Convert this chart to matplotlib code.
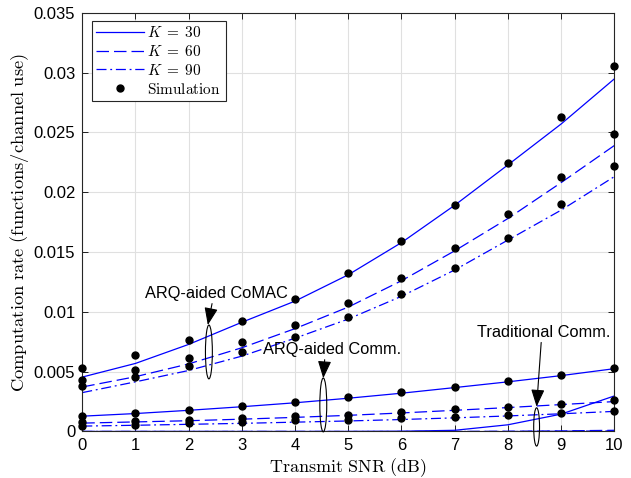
import matplotlib
matplotlib.use("Agg")
import matplotlib.pyplot as plt
from matplotlib.patches import Ellipse
import numpy as np

plt.rcParams['mathtext.fontset'] = 'cm'
plt.rcParams['font.family'] = ['Liberation Sans', 'DejaVu Sans']

snr = [0, 1, 2, 3, 4, 5, 6, 7, 8, 9, 10]

# ARQ-aided CoMAC (theory)
comac_k30 = [0.00455, 0.00569, 0.00728, 0.00913, 0.0109, 0.0131, 0.01579, 0.01891, 0.02228, 0.0257, 0.02947]
comac_k60 = [0.00372, 0.00458, 0.00565, 0.0070, 0.0086, 0.0104, 0.0126, 0.0151, 0.0178, 0.0208, 0.0239]
comac_k90 = [0.00325, 0.00415, 0.0051, 0.0063, 0.0078, 0.0094, 0.0113, 0.0135, 0.0160, 0.0185, 0.0213]
# ARQ-aided CoMAC (simulation)
comac_k30_sim = [0.0053, 0.00638, 0.00767, 0.00922, 0.01105, 0.01328, 0.01593, 0.01897, 0.02243, 0.0263, 0.03059]
comac_k60_sim = [0.00428, 0.00513, 0.00617, 0.00744, 0.0089, 0.01072, 0.01286, 0.01532, 0.01816, 0.0213, 0.02485]
comac_k90_sim = [0.0038, 0.00455, 0.00547, 0.00663, 0.00793, 0.00957, 0.0115, 0.01367, 0.0162, 0.01905, 0.02223]

# ARQ-aided Comm. (theory)
arq_k30 = [0.00128, 0.0015, 0.00177, 0.00207, 0.0024, 0.00278, 0.0032, 0.00367, 0.00415, 0.00467, 0.00525]
arq_k60 = [0.0007, 0.0008, 0.0009, 0.00103, 0.00118, 0.00135, 0.00155, 0.00177, 0.002, 0.00225, 0.0025]
arq_k90 = [0.00045, 0.00052, 0.0006, 0.00068, 0.00078, 0.00088, 0.001, 0.00114, 0.0013, 0.00148, 0.00168]
# ARQ-aided Comm. (simulation)
arq_k30_sim = [0.00133, 0.00156, 0.00183, 0.00211, 0.00244, 0.00286, 0.00329, 0.00372, 0.00419, 0.00472, 0.00528]
arq_k60_sim = [0.00078, 0.00086, 0.00095, 0.00114, 0.00128, 0.00142, 0.00166, 0.00187, 0.00208, 0.00231, 0.00261]
arq_k90_sim = [0.0005, 0.00058, 0.00067, 0.00078, 0.00094, 0.001, 0.00114, 0.00125, 0.00139, 0.00153, 0.00172]

# Traditional Comm. (theory)
trad_k30 = [0.0, 0.0, 0.0, 0.0, 0.0, 0.0, 0.00002, 0.0001, 0.00056, 0.00145, 0.00297]
trad_k60 = [0.0, 0.0, 0.0, 0.0, 0.0, 0.0, 0.0, 0.0, 0.00002, 0.00005, 0.0001]
trad_k90 = [0.0, 0.0, 0.0, 0.0, 0.0, 0.0, 0.0, 0.0, 0.0, 0.00002, 0.00005]

yticks = [0, 0.005, 0.01, 0.015, 0.02, 0.025, 0.03, 0.035]
ytick_labels = ['0', '0.005', '0.01', '0.015', '0.02', '0.025', '0.03', '0.035']

blue = (0, 0, 1)
fig = plt.figure(figsize=(6.31, 4.78), dpi=100)
ax = fig.add_axes([0.1304, 0.0973, 0.8431, 0.876])

lw = 0.9
ls30 = '-'
ls60 = (0, (10, 4))
ls90 = (0, (8, 3, 1.5, 3))

l30, = ax.plot(snr, comac_k30, color=blue, lw=lw, ls=ls30, label=r'$K\;=\;30$')
l60, = ax.plot(snr, comac_k60, color=blue, lw=lw, ls=ls60, label=r'$K\;=\;60$')
l90, = ax.plot(snr, comac_k90, color=blue, lw=lw, ls=ls90, label=r'$K\;=\;90$')
ax.plot(snr, arq_k30, color=blue, lw=lw, ls=ls30)
ax.plot(snr, arq_k60, color=blue, lw=lw, ls=ls60)
ax.plot(snr, arq_k90, color=blue, lw=lw, ls=ls90)
ax.plot(snr, trad_k30, color=blue, lw=lw, ls=ls30)
ax.plot(snr, trad_k60, color=blue, lw=lw, ls=ls60)
ax.plot(snr, trad_k90, color=blue, lw=lw, ls=ls90)

sims = [comac_k30_sim, comac_k60_sim, comac_k90_sim, arq_k30_sim, arq_k60_sim, arq_k90_sim]
sim_handle = None
for s in sims:
    h, = ax.plot(snr, s, 'o', color='black', ms=5, ls='none', clip_on=False, zorder=5,
                 label=r'$\mathrm{Simulation}$')
    if sim_handle is None:
        sim_handle = h

ax.set_xlim(0, 10)
ax.set_ylim(0, 0.035)
ax.set_xticks(snr)
ax.set_yticks(yticks)
ax.set_yticklabels(ytick_labels)
ax.tick_params(direction='in', top=True, right=True, labelsize=12, length=4, width=0.6, pad=5)
ax.grid(True, color='#e0e0e0', lw=0.8)
ax.set_axisbelow(True)
for sp in ax.spines.values():
    sp.set_linewidth(0.8)
    sp.set_color('#262626')

ax.set_xlabel(r'$\mathrm{Transmit\ SNR\ (dB)}$', fontsize=13, labelpad=2)
ax.set_ylabel(r'$\mathrm{Computation\ rate\ (functions/channel\ use)}$', fontsize=13.3, labelpad=2)

leg = ax.legend(handles=[l30, l60, l90, sim_handle], loc='upper left',
                bbox_to_anchor=(9.4 / 532, 1 - 7.8 / 418.6), borderaxespad=0,
                fontsize=11, handlelength=3.1, fancybox=False, framealpha=1,
                edgecolor='#262626', borderpad=0.3, labelspacing=0.25, handletextpad=0.25)
leg.get_frame().set_linewidth(0.8)

# annotations
ell_kw = dict(fill=False, ec='black', lw=0.8, clip_on=False, zorder=6)
ax.add_patch(Ellipse((2.38, 0.00665), 0.13, 0.0045, **ell_kw))
ax.add_patch(Ellipse((4.53, 0.00222), 0.13, 0.0045, **ell_kw))
ax.add_patch(Ellipse((8.54, 0.00038), 0.11, 0.0032, **ell_kw))

arrow = dict(arrowstyle='-|>,head_length=0.9,head_width=0.35', color='black', lw=0.8, shrinkA=0, shrinkB=0)
ax.annotate('ARQ-aided CoMAC', xy=(2.36, 0.0089), xytext=(2.53, 0.01155),
            ha='center', va='center', fontsize=11.8, arrowprops=dict(arrow, relpos=(0.47, 0.0)), zorder=7)
ax.annotate('ARQ-aided Comm.', xy=(4.53, 0.00445), xytext=(4.69, 0.00686),
            ha='center', va='center', fontsize=11.8, arrowprops=dict(arrow, relpos=(0.45, 0.0)), zorder=7)
ax.annotate('Traditional Comm.', xy=(8.54, 0.00207), xytext=(8.68, 0.0083),
            ha='center', va='center', fontsize=11.8, arrowprops=dict(arrow, relpos=(0.48, 0.0)), zorder=7)

fig.savefig('out.png', dpi=100)
